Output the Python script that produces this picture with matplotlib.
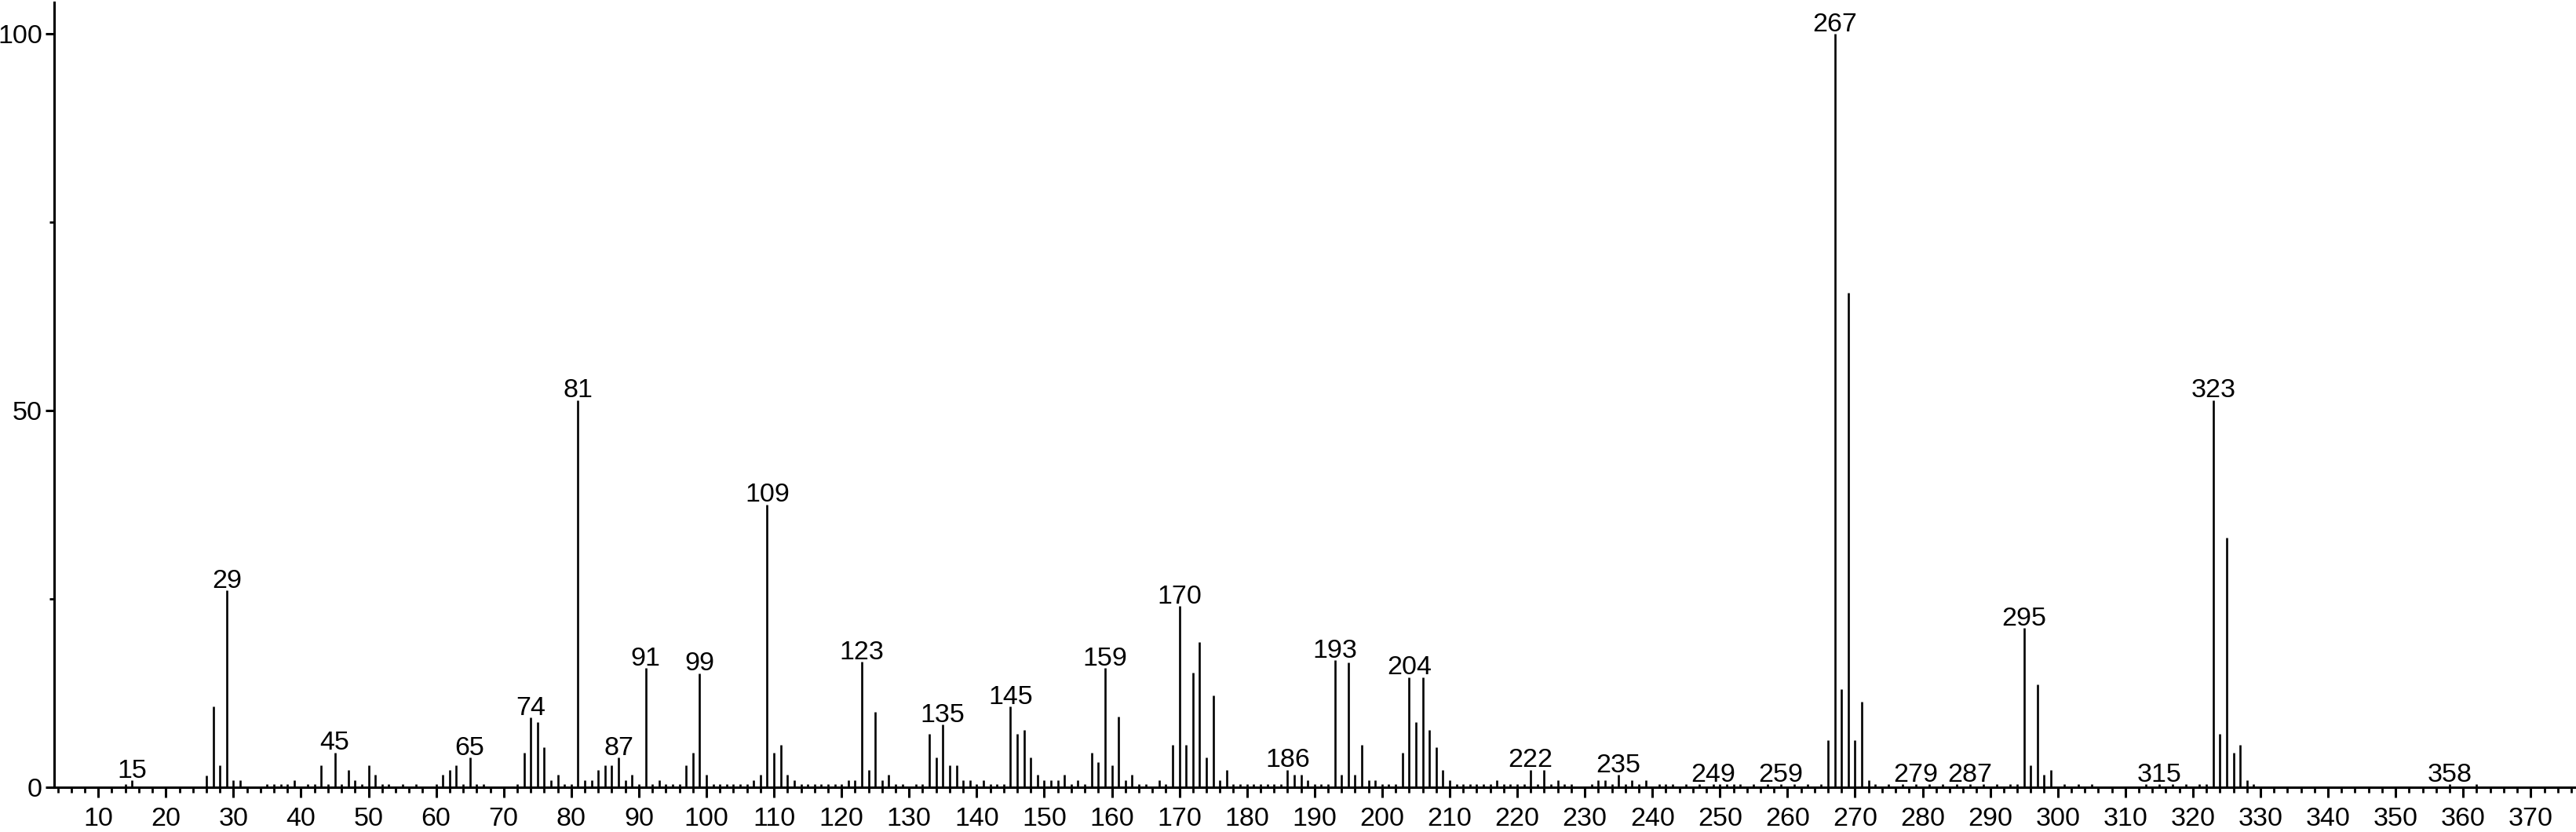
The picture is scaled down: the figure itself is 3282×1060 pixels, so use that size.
import numpy as np
import matplotlib
matplotlib.use('Agg')
import matplotlib.pyplot as plt
from matplotlib.ticker import MultipleLocator

plt.rcParams['font.family'] = ['Liberation Sans', 'DejaVu Sans']

# main peaks (m/z, relative intensity %)
mz_main = [15, 26, 27, 28, 29, 30, 31, 39, 43, 45, 47, 48, 50, 51,
           61, 62, 63, 65, 73, 74, 75, 76, 77, 78, 81, 82, 83, 84, 85, 86, 87, 88, 89,
           91, 93, 97, 98, 99, 100, 107, 108, 109, 110, 111, 112, 113,
           121, 122, 123, 124, 125, 126, 127, 133, 134, 135, 136, 137, 138, 139, 141,
           145, 146, 147, 148, 149, 150, 151, 152, 153, 155,
           157, 158, 159, 160, 161, 162, 163, 167, 169, 170, 171, 172, 173, 174, 175, 176, 177,
           186, 187, 188, 189, 193, 194, 195, 196, 197, 198, 199,
           203, 204, 205, 206, 207, 208, 209, 210, 217, 222, 224, 226, 232, 233, 235, 237, 239,
           266, 267, 268, 269, 270, 271, 272, 295, 296, 297, 298, 299,
           323, 324, 325, 326, 327, 328]
int_main = [0.9, 1.5, 10.7, 2.9, 26.1, 0.9, 0.9, 0.9, 2.9, 4.6, 2.3, 0.9, 2.9, 1.6,
            1.6, 2.3, 2.9, 3.9, 4.6, 9.2, 8.6, 5.3, 0.9, 1.6, 51.4, 0.9, 0.9, 2.3, 2.9, 2.9, 3.9, 0.9, 1.6,
            15.8, 0.9, 2.9, 4.6, 15.1, 1.6, 0.9, 1.6, 37.5, 4.6, 5.6, 1.6, 0.9,
            0.9, 0.9, 16.6, 2.3, 10.0, 0.9, 1.6, 7.0, 3.9, 8.3, 2.9, 2.9, 0.9, 0.9, 0.9,
            10.7, 7.0, 7.6, 3.9, 1.6, 0.9, 0.9, 0.9, 1.6, 0.9,
            4.6, 3.3, 15.8, 2.9, 9.3, 0.9, 1.6, 0.9, 5.6, 24.0, 5.6, 15.2, 19.2, 3.9, 12.2, 0.9, 2.3,
            2.3, 1.6, 1.6, 0.9, 16.8, 1.6, 16.5, 1.6, 5.6, 0.9, 0.9,
            4.6, 14.6, 8.6, 14.6, 7.6, 5.3, 2.3, 0.9, 0.9, 2.3, 2.3, 0.9, 0.9, 0.9, 1.6, 0.9, 0.9,
            6.2, 100.0, 13.0, 65.6, 6.2, 11.3, 0.9, 21.1, 2.9, 13.6, 1.6, 2.3,
            51.4, 7.0, 33.1, 4.6, 5.6, 0.9]

# very small peaks just above the baseline
mz_trace = [14, 35, 36, 37, 38, 41, 42, 44, 46, 49, 52, 53, 55, 57, 60, 64, 66, 67, 72, 79, 80,
            90, 92, 94, 95, 96, 101, 102, 103, 104, 105, 106, 114, 115, 116, 117, 118, 119, 120,
            128, 129, 131, 132, 140, 142, 143, 144, 154, 156, 164, 165, 168, 178, 179, 180,
            181, 182, 183, 184, 185, 190, 191, 192, 200, 201, 202, 211, 212, 213, 214, 215,
            216, 218, 219, 220, 221, 223, 225, 227, 228, 231, 234, 236, 238, 241, 242, 243,
            245, 247, 249, 250, 251, 252, 253, 255, 257, 259, 261, 263, 265, 273, 275, 277,
            279, 281, 283, 285, 287, 289, 291, 293, 294, 301, 303, 305, 313, 315, 317, 319,
            321, 322, 329, 358, 362]
int_trace = [0.35] * len(mz_trace)

labels = [15, 29, 45, 65, 74, 81, 87, 91, 99, 109, 123, 135, 145, 159, 170, 186, 193,
          204, 222, 235, 249, 259, 267, 279, 287, 295, 315, 323, 358]

mz = np.array(mz_main + mz_trace)
inten = np.array(int_main + int_trace)
lookup = dict(zip(mz, inten))

fig = plt.figure(figsize=(32.82, 10.60), dpi=100)
ax = fig.add_axes([0.0211, 0.0541, 0.9789, 0.9431])

ax.vlines(mz, 0, inten, color='black', lw=1.9)

for m in labels:
    ax.annotate(str(m), (m, lookup[m]), xytext=(0, 2.5), textcoords='offset points',
                ha='center', va='baseline', fontsize=24.5)

ax.set_xlim(3.5, 376.7)
ax.set_ylim(0, 104.2)

ax.xaxis.set_major_locator(MultipleLocator(10))
ax.xaxis.set_minor_locator(MultipleLocator(2))
ax.set_xticks(np.arange(10, 371, 10))
ax.yaxis.set_major_locator(MultipleLocator(50))
ax.yaxis.set_minor_locator(MultipleLocator(25))

ax.spines['top'].set_visible(False)
ax.spines['right'].set_visible(False)
for s in ('left', 'bottom'):
    ax.spines[s].set_linewidth(2.2)

ax.tick_params(axis='x', which='major', direction='out', length=9, width=2.2,
               labelsize=24.5, pad=9)
ax.tick_params(axis='x', which='minor', direction='out', length=5, width=2.0)
ax.tick_params(axis='y', which='major', direction='out', length=8, width=2.2,
               labelsize=24.5, pad=3)
ax.tick_params(axis='y', which='minor', direction='out', length=4, width=2.0)

fig.savefig('out.png', dpi=100)
